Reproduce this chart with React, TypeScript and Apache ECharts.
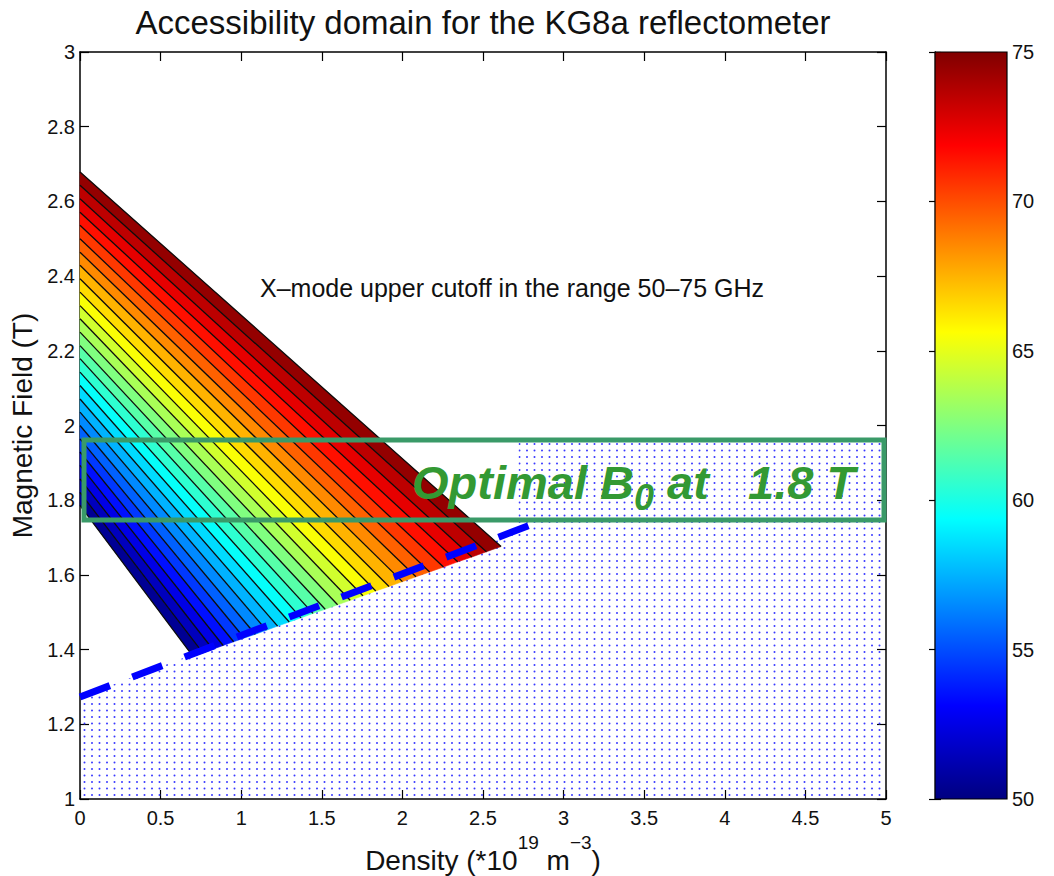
import React, { useEffect, useRef } from "react";
import * as echarts from "echarts";

const FONT = "'Liberation Sans', Arial, Helvetica, sans-serif";

// contour levels (GHz) of the X-mode upper cutoff
const levels = [50, 51, 52, 53, 54, 55, 56, 57, 58, 59, 60, 61, 62, 63, 64, 65, 66, 67, 68, 69, 70, 71, 72, 73, 74, 75];
// B (T) where each contour meets density = 0
const leftB = [1.786, 1.821, 1.857, 1.893, 1.929, 1.964, 2.0, 2.036, 2.071, 2.107, 2.143, 2.179, 2.214, 2.25, 2.286, 2.321, 2.357, 2.393, 2.429, 2.464, 2.5, 2.536, 2.571, 2.607, 2.643, 2.679];
// end point of each contour on the lower edge of the accessible domain
const rightN = [0.701, 0.762, 0.824, 0.888, 0.953, 1.019, 1.087, 1.156, 1.226, 1.298, 1.371, 1.445, 1.521, 1.598, 1.676, 1.755, 1.835, 1.917, 2.0, 2.084, 2.169, 2.255, 2.343, 2.431, 2.521, 2.612];
const rightB = [1.382, 1.391, 1.401, 1.411, 1.421, 1.431, 1.441, 1.452, 1.463, 1.474, 1.485, 1.497, 1.508, 1.52, 1.532, 1.544, 1.557, 1.569, 1.582, 1.595, 1.608, 1.621, 1.635, 1.648, 1.662, 1.676];
// dotted (inaccessible) region outline
const hatchN = [0, 0, 2.72, 2.72, 5, 5];
const hatchB = [1, 1.273, 1.716, 1.955, 1.955, 1];
// blue dashed limit line
const dashN = [0, 2.82];
const dashB = [1.273, 1.738];
// axes
const xRange = [0, 5];
const yRange = [1, 3];
const cbRange = [50, 75];
// jet colormap, evenly spaced
const jet = ["#000080", "#0000ff", "#0080ff", "#00ffff", "#80ff80", "#ffff00", "#ff8000", "#ff0000", "#800000"];

function dotPattern(): any {
  const cv = document.createElement("canvas");
  cv.width = 15;
  cv.height = 13;
  const ctx = cv.getContext("2d");
  if (ctx) {
    ctx.fillStyle = "#3a3aff";
    ctx.beginPath();
    ctx.arc(2, 2, 1, 0, Math.PI * 2);
    ctx.arc(9.5, 2, 1, 0, Math.PI * 2);
    ctx.fill();
    ctx.beginPath();
    ctx.arc(2, 8.5, 1, 0, Math.PI * 2);
    ctx.arc(9.5, 8.5, 1, 0, Math.PI * 2);
    ctx.fill();
  }
  return { image: cv.toDataURL(), repeat: "repeat", imageWidth: 15, imageHeight: 13 };
}

export default function App() {
  const ref = useRef<HTMLDivElement>(null);
  useEffect(() => {
    if (!ref.current) return;
    const chart = echarts.init(ref.current, undefined, { renderer: "svg" });
    const pattern = dotPattern();
    const bands = levels.slice(0, -1).map((L, i) => [i, (L + levels[i + 1]) / 2]);
    const lines = levels.map((L, i) => [i, L]);

    const mainX = (extra: any) => ({
      type: "value",
      gridIndex: 0,
      min: xRange[0],
      max: xRange[1],
      interval: 0.5,
      axisLine: { show: true, onZero: false, lineStyle: { color: "#000", width: 1.5 } },
      axisTick: { show: true, inside: true, length: 9, lineStyle: { color: "#000", width: 1.2 } },
      splitLine: { show: false },
      ...extra,
    });
    const mainY = (extra: any) => ({
      type: "value",
      gridIndex: 0,
      min: yRange[0],
      max: yRange[1],
      interval: 0.2,
      axisLine: { show: true, onZero: false, lineStyle: { color: "#000", width: 1.5 } },
      axisTick: { show: true, inside: true, length: 9, lineStyle: { color: "#000", width: 1.2 } },
      splitLine: { show: false },
      ...extra,
    });

    chart.setOption({
      animation: false,
      backgroundColor: "#fff",
      textStyle: { fontFamily: FONT },
      grid: [
        { left: 80, top: 52, width: 806, height: 747, containLabel: false, outerBoundsMode: "none" },
        { left: 935, top: 52, width: 72, height: 747, containLabel: false, outerBoundsMode: "none" },
      ],
      xAxis: [
        mainX({
          position: "bottom",
          axisLabel: { show: true, fontSize: 20, color: "#111", margin: 9, fontFamily: FONT, showMinLabel: true, showMaxLabel: true },
          name: "{n|Density (*10}{s|19}{n| m}{s|\u22123}{n|)}",
          nameLocation: "middle",
          nameGap: 28,
          nameTextStyle: {
            color: "#111",
            fontFamily: FONT,
            fontSize: 28,
            rich: {
              n: { fontSize: 28, lineHeight: 56, color: "#111", fontFamily: FONT },
              s: { fontSize: 19, lineHeight: 19, verticalAlign: "top", color: "#111", fontFamily: FONT },
            },
          },
        }),
        mainX({ position: "top", axisLabel: { show: false } }),
        { type: "value", gridIndex: 1, min: 0, max: 1, show: false },
      ],
      yAxis: [
        mainY({
          position: "left",
          axisLabel: { show: true, fontSize: 20, color: "#111", margin: 5, fontFamily: FONT, showMinLabel: true, showMaxLabel: true },
          name: "Magnetic Field (T)",
          nameLocation: "middle",
          nameGap: 31,
          nameTextStyle: { color: "#111", fontSize: 28, fontFamily: FONT },
        }),
        mainY({ position: "right", axisLabel: { show: false } }),
        {
          type: "value",
          gridIndex: 1,
          position: "right",
          min: cbRange[0],
          max: cbRange[1],
          interval: 5,
          axisLine: { show: true, lineStyle: { color: "#000", width: 1.2 } },
          axisTick: { show: true, inside: true, length: 6, lineStyle: { color: "#000", width: 1.2 } },
          axisLabel: { show: true, fontSize: 20, color: "#111", margin: 5, fontFamily: FONT, showMinLabel: true, showMaxLabel: true },
          splitLine: { show: false },
        },
        {
          type: "value",
          gridIndex: 1,
          position: "left",
          min: cbRange[0],
          max: cbRange[1],
          interval: 5,
          axisLine: { show: true, lineStyle: { color: "#000", width: 1.2 } },
          axisTick: { show: true, inside: true, length: 6, lineStyle: { color: "#000", width: 1.2 } },
          axisLabel: { show: false },
          splitLine: { show: false },
        },
      ],
      visualMap: {
        show: false,
        type: "continuous",
        min: cbRange[0],
        max: cbRange[1],
        dimension: 1,
        seriesIndex: 1,
        inRange: { color: jet },
      },
      series: [
        {
          type: "custom",
          name: "hatch",
          xAxisIndex: 0,
          yAxisIndex: 0,
          silent: true,
          z: 1,
          data: [[0, 1]],
          renderItem: (params: any, api: any) => {
            const pts = hatchN.map((n, i) => api.coord([n, hatchB[i]]));
            return { type: "polygon", shape: { points: pts }, style: { fill: pattern } };
          },
        },
        {
          type: "custom",
          name: "bands",
          xAxisIndex: 0,
          yAxisIndex: 0,
          silent: true,
          z: 2,
          data: bands,
          renderItem: (params: any, api: any) => {
            const i = params.dataIndex;
            const pts = [
              api.coord([xRange[0], leftB[i]]),
              api.coord([xRange[0], leftB[i + 1]]),
              api.coord([rightN[i + 1], rightB[i + 1]]),
              api.coord([rightN[i], rightB[i]]),
            ];
            const c = api.visual("color");
            return { type: "polygon", shape: { points: pts }, style: { fill: c, stroke: c, lineWidth: 0.6 } };
          },
        },
        {
          type: "custom",
          name: "contours",
          xAxisIndex: 0,
          yAxisIndex: 0,
          silent: true,
          z: 3,
          data: lines,
          renderItem: (params: any, api: any) => {
            const i = params.dataIndex;
            const a = api.coord([xRange[0], leftB[i]]);
            const b = api.coord([rightN[i], rightB[i]]);
            return {
              type: "line",
              shape: { x1: a[0], y1: a[1], x2: b[0], y2: b[1] },
              style: { stroke: "#0c0c0c", lineWidth: 1.3 },
            };
          },
        },
        {
          type: "line",
          name: "limit",
          xAxisIndex: 0,
          yAxisIndex: 0,
          silent: true,
          z: 4,
          symbol: "none",
          showSymbol: false,
          data: dashN.map((n, i) => [n, dashB[i]]),
          lineStyle: { color: "#0000ff", width: 7, type: [32, 24], cap: "butt" },
        },
        {
          type: "custom",
          name: "colorbar",
          xAxisIndex: 2,
          yAxisIndex: 2,
          silent: true,
          data: [[0, cbRange[0]]],
          renderItem: (params: any, api: any) => {
            const p0 = api.coord([0, cbRange[1]]);
            const p1 = api.coord([1, cbRange[0]]);
            return {
              type: "rect",
              shape: { x: p0[0], y: p0[1], width: p1[0] - p0[0], height: p1[1] - p0[1] },
              style: {
                fill: new echarts.graphic.LinearGradient(
                  0, 1, 0, 0,
                  jet.map((c, k) => ({ offset: k / (jet.length - 1), color: c }))
                ),
                stroke: "#000",
                lineWidth: 1.2,
              },
            };
          },
        },
      ],
      graphic: [
        {
          type: "text",
          x: 483,
          y: 22,
          silent: true,
          style: {
            text: "Accessibility domain for the KG8a reflectometer",
            fontSize: 33,
            fontFamily: FONT,
            fill: "#111",
            align: "center",
            verticalAlign: "middle",
          },
        },
        {
          type: "text",
          x: 260,
          y: 288,
          silent: true,
          style: {
            text: "X\u2013mode upper cutoff in the range 50\u201375 GHz",
            fontSize: 25,
            fontFamily: FONT,
            fill: "#111",
            align: "left",
            verticalAlign: "middle",
          },
        },
        {
          type: "rect",
          silent: true,
          z: 100,
          shape: { x: 84, y: 440, width: 800, height: 80 },
          style: { fill: "none", stroke: "#3a9a68", lineWidth: 5 },
        },
        {
          type: "text",
          x: 412,
          y: 459,
          silent: true,
          z: 100,
          style: {
            text: "{m|Optimal B}{s|0}{m| at   1.8 T}",
            align: "left",
            verticalAlign: "top",
            rich: {
              m: { fontSize: 47, lineHeight: 46, verticalAlign: "top", fontWeight: "bold", fontStyle: "italic", fontFamily: FONT, fill: "#339933", color: "#339933" },
              s: { fontSize: 36, lineHeight: 76, fontWeight: "bold", fontStyle: "italic", fontFamily: FONT, fill: "#339933", color: "#339933" },
            },
          },
        },
      ],
    });
    return () => chart.dispose();
  }, []);
  return (
    <div
      ref={ref}
      style={{ position: "fixed", left: 0, top: 0, width: 1054, height: 876, background: "#fff" }}
    />
  );
}
